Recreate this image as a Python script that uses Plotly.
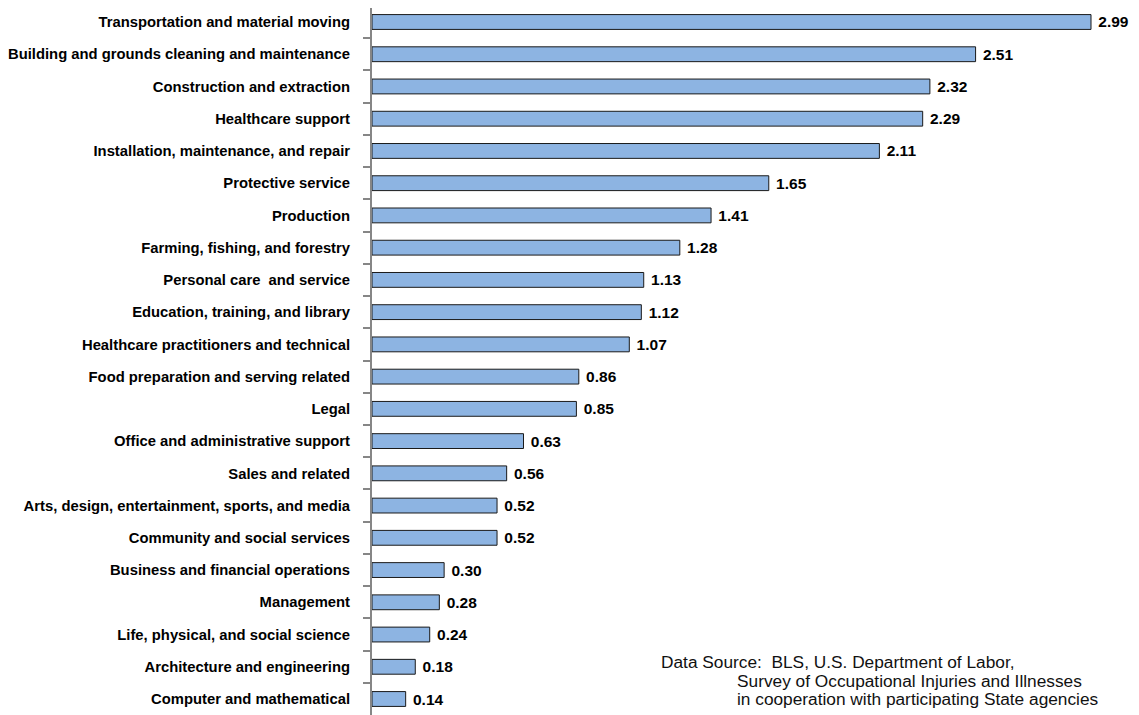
import plotly.graph_objects as go

# occupation groups, top to bottom as shown
occupations = [
    "Transportation and material moving",
    "Building and grounds cleaning and maintenance",
    "Construction and extraction",
    "Healthcare support",
    "Installation, maintenance, and repair",
    "Protective service",
    "Production",
    "Farming, fishing, and forestry",
    "Personal care  and service",
    "Education, training, and library",
    "Healthcare practitioners and technical",
    "Food preparation and serving related",
    "Legal",
    "Office and administrative support",
    "Sales and related",
    "Arts, design, entertainment, sports, and media",
    "Community and social services",
    "Business and financial operations",
    "Management",
    "Life, physical, and social science",
    "Architecture and engineering",
    "Computer and mathematical",
]
rates = [2.99, 2.51, 2.32, 2.29, 2.11, 1.65, 1.41, 1.28, 1.13, 1.12, 1.07,
         0.86, 0.85, 0.63, 0.56, 0.52, 0.52, 0.30, 0.28, 0.24, 0.18, 0.14]

source_lines = [
    "Data Source:  BLS, U.S. Department of Labor,",
    "Survey of Occupational Injuries and Illnesses",
    "in cooperation with participating State agencies",
]

FONT = "Liberation Sans, Arial"

fig = go.Figure()
fig.add_trace(go.Bar(
    x=rates, y=occupations, orientation="h",
    marker=dict(color="#8DB4E2", line=dict(color="#1a1a1a", width=1)),
    width=0.46,
    texttemplate="\u00a0%{x:.2f}", textposition="outside", constraintext="none",
    textfont=dict(family=FONT, size=15.5, color="black", weight="bold"),
    cliponaxis=False, hoverinfo="x+y",
))

# source note, first line then the two indented lines
fig.add_annotation(x=0.379, y=0.075, xref="paper", yref="paper",
                   xanchor="left", yanchor="middle", showarrow=False,
                   text=source_lines[0])
for i, line in enumerate(source_lines[1:]):
    fig.add_annotation(x=0.4795, y=0.0485 - i * 0.026, xref="paper", yref="paper",
                       xanchor="left", yanchor="middle", showarrow=False,
                       text=line)
fig.update_annotations(font=dict(family=FONT, size=17.3, color="#111111"))

# page body has an 8px margin, so the figure is sized to fit the window
fig.update_layout(
    width=1131, height=707,
    margin=dict(l=364, r=10, t=0, b=0),
    plot_bgcolor="white", paper_bgcolor="white",
    showlegend=False,
    font=dict(family=FONT, color="black"),
)
fig.update_xaxes(range=[0, 3.148], visible=False)
fig.update_yaxes(
    type="category", autorange=False, range=[21.496, -0.434],
    showline=True, linecolor="#868686", linewidth=2,
    ticks="outside", tickson="boundaries", ticklen=7, tickcolor="#868686",
    tickwidth=2, ticklabelstandoff=17,
    tickfont=dict(family=FONT, size=14.8, color="black", weight="bold"),
    showgrid=False,
)

fig.write_html("out.html")
